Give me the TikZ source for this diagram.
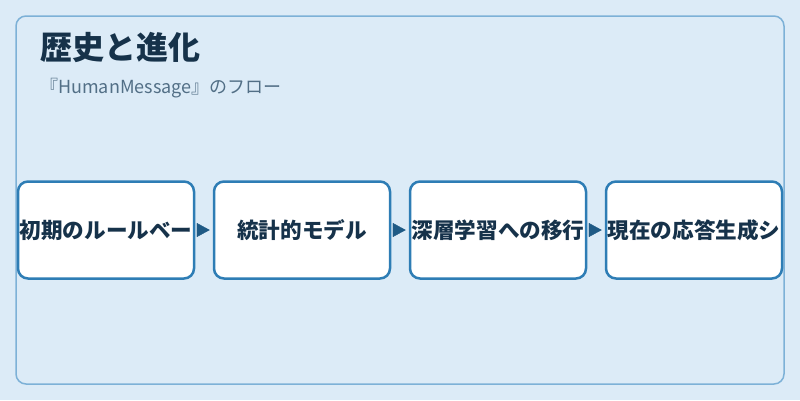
\documentclass[tikz,border=0pt]{standalone}
\usepackage{fontspec}
\setmainfont{Noto Sans CJK JP}
\usetikzlibrary{arrows.meta}
\definecolor{bgc}{HTML}{DCEBF7}
\definecolor{framec}{HTML}{7DB1D7}
\definecolor{boxc}{HTML}{2E7DB5}
\definecolor{arrc}{HTML}{1F5A85}
\definecolor{txtc}{HTML}{16324A}
\definecolor{subc}{HTML}{526F86}
\tikzset{
  stepbox/.style={draw=boxc, line width=2.5pt, rounded corners=10pt, fill=white,
    minimum width=176pt, minimum height=97pt, inner sep=0pt, text=txtc,
    font=\fontsize{21.6}{26}\selectfont\bfseries},
  flowarrow/.style={draw=arrc, fill=arrc, line width=0.4pt, shorten <=2pt, shorten >=3pt,
    -{Triangle[length=13pt,width=14pt]}},
}
\begin{document}
\begin{tikzpicture}[x=1pt,y=-1pt]
\useasboundingbox[fill=bgc] (0,0) rectangle (800,400);
\draw[framec, line width=1.5pt, rounded corners=10pt] (16,16) rectangle (784,384);
\node[anchor=west, text=txtc, font=\fontsize{32}{38}\selectfont\bfseries, inner sep=0pt] (title) at (40,47) {歴史と進化};
\node[anchor=west, text=subc, font=\fontsize{18}{22}\selectfont, inner sep=0pt] (sub) at (40,88) {『HumanMessage』のフロー};
\node[stepbox] (b1) at (106,230) {初期のルールベー};
\node[stepbox] (b2) at (302,230) {統計的モデル};
\node[stepbox] (b3) at (498,230) {深層学習への移行};
\node[stepbox] (b4) at (694,230) {現在の応答生成シ};
\draw[flowarrow] (b1.east) -- (b2.west);
\draw[flowarrow] (b2.east) -- (b3.west);
\draw[flowarrow] (b3.east) -- (b4.west);
\end{tikzpicture}
\end{document}
